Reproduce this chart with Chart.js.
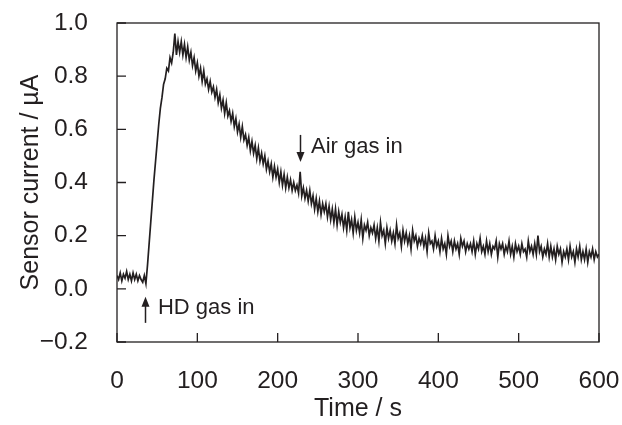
<!DOCTYPE html>
<html>
<head>
<meta charset="utf-8">
<script src="https://cdn.jsdelivr.net/npm/chart.js@4.4.1/dist/chart.umd.min.js"></script>
<style>
  body { margin: 0; background: #fff; }
  #wrap { width: 622px; height: 425px; }
</style>
</head>
<body>
<div id="wrap"><canvas id="sensorChart" width="622" height="425"></canvas></div>
<script>
// sample times (s)
const times = [
  0,2,4,6,8,10,12,14,16,18,
  20,22,24,26,28,30,32,34,36,38,
  40,42,44,46,48,50,52,54,56,58,
  60,62,64,66,68,70,72,74,76,78,
  80,82,84,86,88,90,92,94,96,98,
  100,102,104,106,108,110,112,114,116,118,
  120,122,124,126,128,130,132,134,136,138,
  140,142,144,146,148,150,152,154,156,158,
  160,162,164,166,168,170,172,174,176,178,
  180,182,184,186,188,190,192,194,196,198,
  200,202,204,206,208,210,212,214,216,218,
  220,222,224,226,228,230,232,234,236,238,
  240,242,244,246,248,250,252,254,256,258,
  260,262,264,266,268,270,272,274,276,278,
  280,282,284,286,288,290,292,294,296,298,
  300,302,304,306,308,310,312,314,316,318,
  320,322,324,326,328,330,332,334,336,338,
  340,342,344,346,348,350,352,354,356,358,
  360,362,364,366,368,370,372,374,376,378,
  380,382,384,386,388,390,392,394,396,398,
  400,402,404,406,408,410,412,414,416,418,
  420,422,424,426,428,430,432,434,436,438,
  440,442,444,446,448,450,452,454,456,458,
  460,462,464,466,468,470,472,474,476,478,
  480,482,484,486,488,490,492,494,496,498,
  500,502,504,506,508,510,512,514,516,518,
  520,522,524,526,528,530,532,534,536,538,
  540,542,544,546,548,550,552,554,556,558,
  560,562,564,566,568,570,572,574,576,578,
  580,582,584,586,588,590,592,594,596,598,
  600
];

// sensor current (uA)
const current = [
  0.05,0.035,0.06,0.03,0.055,0.04,0.065,0.035,0.055,0.03,
  0.06,0.035,0.055,0.03,0.05,0.035,0.025,0.05,0.02,0.09,
  0.17,0.25,0.33,0.41,0.48,0.55,0.62,0.68,0.72,0.77,
  0.79,0.83,0.82,0.87,0.85,0.89,0.96,0.88,0.93,0.89,
  0.93,0.88,0.92,0.87,0.91,0.86,0.89,0.84,0.87,0.82,
  0.85,0.80,0.83,0.78,0.82,0.77,0.79,0.75,0.78,0.74,
  0.76,0.72,0.75,0.70,0.73,0.68,0.71,0.66,0.70,0.65,
  0.67,0.63,0.66,0.61,0.64,0.59,0.62,0.57,0.61,0.56,
  0.58,0.54,0.57,0.52,0.555,0.51,0.54,0.49,0.53,0.48,
  0.51,0.47,0.50,0.45,0.48,0.44,0.47,0.42,0.46,0.42,
  0.45,0.40,0.44,0.39,0.43,0.38,0.42,0.38,0.41,0.37,
  0.40,0.37,0.39,0.36,0.44,0.35,0.38,0.34,0.37,0.33,
  0.37,0.32,0.35,0.30,0.34,0.29,0.33,0.28,0.32,0.29,
  0.32,0.27,0.31,0.26,0.30,0.25,0.30,0.24,0.29,0.25,
  0.28,0.23,0.27,0.22,0.29,0.23,0.26,0.21,0.27,0.22,
  0.25,0.21,0.26,0.19,0.24,0.22,0.25,0.20,0.23,0.21,
  0.24,0.19,0.23,0.18,0.25,0.20,0.22,0.17,0.23,0.19,
  0.22,0.18,0.21,0.17,0.24,0.19,0.21,0.16,0.22,0.18,
  0.21,0.17,0.20,0.15,0.22,0.18,0.20,0.16,0.19,0.17,
  0.20,0.16,0.19,0.14,0.21,0.17,0.18,0.15,0.20,0.16,
  0.18,0.14,0.19,0.15,0.17,0.13,0.20,0.16,0.18,0.14,
  0.18,0.15,0.17,0.13,0.19,0.16,0.18,0.14,0.17,0.15,
  0.17,0.14,0.18,0.13,0.17,0.15,0.19,0.14,0.16,0.13,
  0.18,0.14,0.17,0.13,0.16,0.15,0.18,0.12,0.17,0.15,
  0.17,0.13,0.16,0.14,0.18,0.13,0.16,0.12,0.17,0.14,
  0.16,0.13,0.17,0.14,0.15,0.12,0.18,0.14,0.16,0.13,
  0.17,0.13,0.20,0.14,0.16,0.12,0.15,0.13,0.17,0.12,
  0.16,0.12,0.15,0.11,0.16,0.13,0.15,0.10,0.14,0.12,
  0.15,0.11,0.16,0.12,0.14,0.10,0.15,0.12,0.16,0.11,
  0.14,0.11,0.15,0.10,0.14,0.12,0.15,0.11,0.14,0.12,
  0.13
];

// axis ticks
const xTicks = [0, 100, 200, 300, 400, 500, 600];
const yTicks = [-0.2, 0.0, 0.2, 0.4, 0.6, 0.8, 1.0];

// annotations: arrow time, arrow from/to (uA), label position
const noteText = ['HD gas in', 'Air gas in'];
const noteTime = [35, 228];
const noteFrom = [-0.128, 0.579];
const noteTo = [-0.03, 0.477];
const noteTextX = [51, 241.5];
const noteTextY = [-0.094, 0.511];

const ink = '#231f20';
const fontFam = '"Liberation Sans", Arial, Helvetica, sans-serif';

const points = times.map((t, i) => ({ x: t, y: current[i] }));

// frame, inward ticks and arrow notes
const framePlugin = {
  id: 'frame',
  afterDatasetsDraw(chart) {
    const ctx = chart.ctx;
    const a = chart.chartArea;
    const xs = chart.scales.x, ys = chart.scales.y;
    ctx.save();
    ctx.strokeStyle = ink;
    ctx.lineWidth = 1.3;
    ctx.strokeRect(a.left, a.top, a.right - a.left, a.bottom - a.top);
    ctx.beginPath();
    xTicks.forEach(v => {
      const px = xs.getPixelForValue(v);
      ctx.moveTo(px, a.bottom);
      ctx.lineTo(px, a.bottom - 9);
    });
    yTicks.forEach(v => {
      const py = ys.getPixelForValue(v);
      ctx.moveTo(a.left, py);
      ctx.lineTo(a.left + 9, py);
    });
    ctx.stroke();

    ctx.fillStyle = ink;
    ctx.font = '22px ' + fontFam;
    ctx.textBaseline = 'alphabetic';
    ctx.textAlign = 'left';
    noteText.forEach((txt, i) => {
      const px = Math.round(xs.getPixelForValue(noteTime[i])) + 0.5;
      const y0 = ys.getPixelForValue(noteFrom[i]);
      const y1 = ys.getPixelForValue(noteTo[i]);
      const dir = y1 < y0 ? 1 : -1; // 1 = pointing up
      ctx.beginPath();
      ctx.lineWidth = 1.5;
      ctx.moveTo(px, y0);
      ctx.lineTo(px, y1 + dir * 8);
      ctx.stroke();
      ctx.beginPath();
      ctx.moveTo(px, y1);
      ctx.lineTo(px - 4, y1 + dir * 10);
      ctx.lineTo(px + 4, y1 + dir * 10);
      ctx.closePath();
      ctx.fill();
      ctx.fillText(txt, xs.getPixelForValue(noteTextX[i]), ys.getPixelForValue(noteTextY[i]));
    });
    ctx.restore();
  }
};

const tickFont = { family: fontFam, size: 24.5, lineHeight: 1.2 };
const titleFont = { family: fontFam, size: 25, lineHeight: 1.2 };

new Chart(document.getElementById('sensorChart'), {
  type: 'line',
  data: {
    datasets: [{
      data: points,
      borderColor: ink,
      borderWidth: 1.7,
      pointRadius: 0,
      tension: 0,
      fill: false
    }]
  },
  options: {
    responsive: false,
    animation: false,
    events: [],
    layout: { padding: { left: 0, top: 23, right: 23, bottom: 0 } },
    plugins: { legend: { display: false }, tooltip: { enabled: false } },
    scales: {
      x: {
        type: 'linear',
        min: 0,
        max: 600,
        afterBuildTicks: s => { s.ticks = xTicks.map(v => ({ value: v })); },
        afterFit: s => { s.height = 83; s.paddingLeft = 0; s.paddingRight = 0; },
        grid: { display: false, drawTicks: false },
        border: { display: false },
        ticks: { color: ink, font: tickFont, padding: 25, maxRotation: 0 },
        title: { display: true, text: 'Time / s', color: ink, font: titleFont, padding: { top: 0, bottom: 1 } }
      },
      y: {
        min: -0.2,
        max: 1.0,
        afterBuildTicks: s => { s.ticks = yTicks.map(v => ({ value: v })); },
        afterFit: s => { s.width = 117; s.paddingTop = 0; s.paddingBottom = 0; },
        grid: { display: false, drawTicks: false },
        border: { display: false },
        ticks: {
          color: ink,
          font: tickFont,
          padding: 29,
          callback: v => (Math.abs(v) < 1e-9 ? 0 : v).toFixed(1).replace('-', '\u2212')
        },
        title: { display: true, text: 'Sensor current / \u00b5A', color: ink, font: titleFont, padding: { top: 16, bottom: 0 } }
      }
    }
  },
  plugins: [framePlugin]
});
</script>
</body>
</html>
